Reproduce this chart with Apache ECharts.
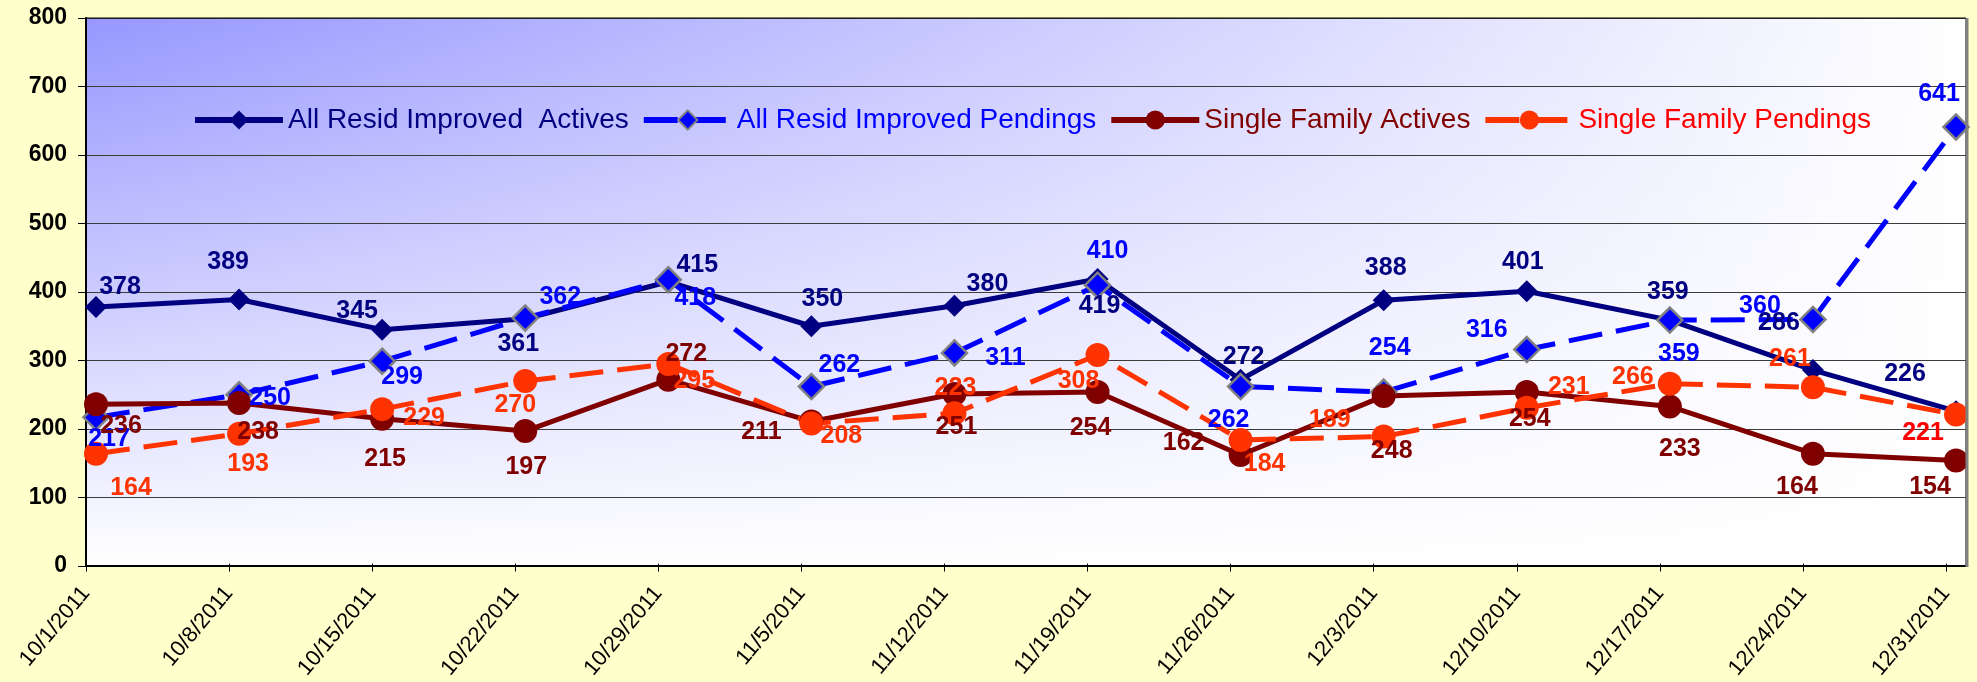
<!DOCTYPE html>
<html>
<head>
<meta charset="utf-8">
<title>Weekly Actives and Pendings</title>
<script src="https://cdn.jsdelivr.net/npm/echarts@6/dist/echarts.min.js"></script>
<style>
  html, body { margin: 0; padding: 0; background: #FFFFCC; }
  #chart { width: 1977px; height: 682px; }
</style>
</head>
<body>
<div id="chart"></div>
<script>
// ---- data ----
const weeks = ['10/1/2011', '10/8/2011', '10/15/2011', '10/22/2011', '10/29/2011', '11/5/2011', '11/12/2011',
               '11/19/2011', '11/26/2011', '12/3/2011', '12/10/2011', '12/17/2011', '12/24/2011', '12/31/2011'];
const allResidActives  = [378, 389, 345, 361, 415, 350, 380, 419, 272, 388, 401, 359, 286, 226];
const allResidPendings = [217, 250, 299, 362, 418, 262, 311, 410, 262, 254, 316, 359, 360, 641];
const sfActives        = [236, 238, 215, 197, 272, 211, 251, 254, 162, 248, 254, 233, 164, 154];
const sfPendings       = [164, 193, 229, 270, 295, 208, 223, 308, 184, 189, 231, 266, 261, 221];
const yMin = 0, yMax = 800, yStep = 100;

// ---- label placement (pixel offsets from each marker centre) ----
const offActives  = [[24,-20],[-11,-37],[-25,-19],[-7,25],[29,-17],[11,-27],[33,-22],[2,27],[3,-23],[2,-32],[-4,-29],[-2,-28],[-34,-47],[-51,-37]];
const offPendings = [[13,22],[31,3],[20,16],[35,-21],[27,18],[28,-21],[51,5],[10,-34],[-12,34],[6,-44],[-40,-19],[9,34],[-53,-13],[-17,-33]];
const offSfAct    = [[25,22],[19,29],[3,40],[1,36],[18,-26],[-50,11],[2,33],[-7,36],[-57,-12],[8,55],[3,27],[10,43],[-16,33],[-26,27]];
const offSfPend   = [[35,34],[9,30],[42,9],[-10,24],[26,17],[30,13],[1,-25],[-19,26],[24,24],[-54,-16],[42,-21],[-37,-7],[-23,-28],[-33,18]];

// ---- layout ----
const FONT = "'Liberation Sans', Arial, sans-serif";
const PLOT = { left: 86, top: 18, right: 1966, bottom: 566 };
const W = 1977, H = 682;

function points(values, offsets, labelColors) {
  return values.map((v, i) => {
    const item = { value: v, label: { offset: offsets[i] } };
    if (labelColors && labelColors[i]) item.label.color = labelColors[i];
    return item;
  });
}

function lineSeries(name, values, offsets, opt) {
  return {
    name: name,
    type: 'line',
    xAxisIndex: 2,
    yAxisIndex: 2,
    z: 3,
    data: points(values, offsets, opt.labelColors),
    symbol: opt.symbol,
    symbolSize: opt.symbolSize,
    showAllSymbol: true,
    lineStyle: { color: opt.color, width: 5, type: opt.dash || 'solid' },
    itemStyle: Object.assign({ color: opt.color }, opt.itemStyle || {}),
    label: {
      show: true,
      position: 'inside',
      align: 'center',
      verticalAlign: 'middle',
      fontFamily: FONT,
      fontSize: 25,
      fontWeight: 'bold',
      color: opt.labelColor
    },
    emphasis: { disabled: true },
    animation: false
  };
}

const chart = echarts.init(document.getElementById('chart'), null, { renderer: 'canvas' });

const plotW = PLOT.right - PLOT.left, plotH = PLOT.bottom - PLOT.top;

const option = {
  backgroundColor: '#FFFFCC',
  animation: false,
  graphic: [
    { // plot-area shading, fading from the top-left corner
      type: 'rect', silent: true, z: -2,
      shape: { x: PLOT.left, y: PLOT.top, width: plotW, height: plotH },
      style: { fill: new echarts.graphic.LinearGradient(0, 0, 1, 0, [
        { offset: 0, color: '#9797FF' }, { offset: 1, color: '#FFFFFF' }]) }
    },
    {
      type: 'rect', silent: true, z: -1,
      shape: { x: PLOT.left, y: PLOT.top, width: plotW, height: plotH },
      style: { fill: new echarts.graphic.LinearGradient(0, 0, 0, 1, [
        { offset: 0, color: 'rgba(255,255,255,0)' }, { offset: 1, color: 'rgba(255,255,255,1)' }]) }
    },
    { // right edge of the plot frame
      type: 'line', silent: true, z: 4,
      shape: { x1: PLOT.right + 1, y1: PLOT.top, x2: PLOT.right + 1, y2: PLOT.bottom + 1 },
      style: { stroke: '#808080', lineWidth: 3 }
    }
  ],
  legend: {
    left: 187,
    top: 101,
    itemWidth: 88,
    itemHeight: 24,
    itemGap: 12,
    lineStyle: { width: 6 },
    textStyle: { fontFamily: FONT, fontSize: 28 },
    data: [
      { name: 'All Resid Improved  Actives', textStyle: { color: '#000080' } },
      { name: 'All Resid Improved Pendings', textStyle: { color: '#0000FF' } },
      { name: 'Single Family Actives', textStyle: { color: '#800000' } },
      { name: 'Single Family Pendings', textStyle: { color: '#FF0000' } }
    ]
  },
  grid: [
    { // frame, value scale and grid lines
      left: PLOT.left, right: W - PLOT.right, top: PLOT.top, bottom: H - PLOT.bottom,
      show: true, borderColor: '#000000', borderWidth: 1, backgroundColor: 'transparent', z: 2
    },
    { // week ticks and labels
      left: PLOT.left, right: W - 1946, top: PLOT.top, bottom: H - PLOT.bottom
    },
    { // series
      left: 96, right: W - 1956, top: PLOT.top, bottom: H - PLOT.bottom
    }
  ],
  xAxis: [
    {
      gridIndex: 0, type: 'value', min: 0, max: 1, z: 0,
      axisLine: { show: true, lineStyle: { color: '#000000', width: 2 } },
      axisTick: { show: false }, axisLabel: { show: false }, splitLine: { show: false }
    },
    {
      gridIndex: 1, type: 'category', data: weeks, boundaryGap: false, z: 0,
      axisLine: { show: false },
      axisTick: { show: true, inside: false, length: 8, interval: 0, lineStyle: { color: '#000000', width: 1 } },
      axisLabel: { show: true, interval: 0, rotate: 50, margin: 26, fontFamily: FONT, fontSize: 22, color: '#000000' },
      splitLine: { show: false }
    },
    {
      gridIndex: 2, type: 'category', data: weeks, boundaryGap: false, show: false
    }
  ],
  yAxis: [
    {
      gridIndex: 0, type: 'value', min: yMin, max: yMax, interval: yStep, z: 0,
      axisLine: { show: true, lineStyle: { color: '#000000', width: 2 } },
      axisTick: { show: true, inside: false, length: 8, lineStyle: { color: '#000000', width: 1 } },
      axisLabel: { margin: 19, fontFamily: FONT, fontSize: 23, fontWeight: 'bold', color: '#000000' },
      splitLine: { show: true, lineStyle: { color: '#3c3c3c', width: 1.2 } }
    },
    { gridIndex: 1, type: 'value', min: yMin, max: yMax, show: false },
    { gridIndex: 2, type: 'value', min: yMin, max: yMax, show: false }
  ],
  series: [
    lineSeries('All Resid Improved  Actives', allResidActives, offActives, {
      color: '#000080', labelColor: '#000080', symbol: 'diamond', symbolSize: 22
    }),
    lineSeries('All Resid Improved Pendings', allResidPendings, offPendings, {
      color: '#0000FF', labelColor: '#0000FF', symbol: 'diamond', symbolSize: 25,
      dash: [34, 14], itemStyle: { borderColor: '#808080', borderWidth: 2.5 }
    }),
    lineSeries('Single Family Actives', sfActives, offSfAct, {
      color: '#800000', labelColor: '#800000', symbol: 'circle', symbolSize: 24
    }),
    lineSeries('Single Family Pendings', sfPendings, offSfPend, {
      color: '#FF3300', labelColor: '#FF3300', symbol: 'circle', symbolSize: 24,
      dash: [34, 14], labelColors: { 13: '#FF0000' }
    })
  ]
};

chart.setOption(option);
</script>
</body>
</html>
